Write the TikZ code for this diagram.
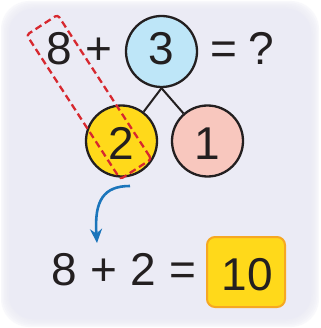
\documentclass[tikz,border=0pt]{standalone}
\usepackage{fontspec}
\setmainfont{Liberation Sans}
\usetikzlibrary{arrows.meta}
\definecolor{bg}{HTML}{EBEBF5}
\definecolor{ink}{HTML}{231F20}
\definecolor{cblue}{HTML}{BEE6F8}
\definecolor{cyellow}{HTML}{FFD91A}
\definecolor{cpink}{HTML}{F8C7BE}
\definecolor{dred}{HTML}{D7282F}
\definecolor{abl}{HTML}{1B75BB}
\definecolor{bord}{HTML}{F6A822}
\begin{document}
\begin{tikzpicture}[x=1pt,y=-1pt,
  num/.style={font=\fontsize{46}{46}\selectfont, text=ink, inner sep=0pt, anchor=base},
  bubble/.style={circle, draw=ink, line width=2.3pt, minimum size=71pt, inner sep=0pt},
  branch/.style={draw=ink, line width=2pt},
  selbox/.style={draw=dred, dash pattern=on 7pt off 4pt, line width=2.3pt, rounded corners=3pt, minimum width=172pt, minimum height=37pt, inner sep=0pt},
  answer/.style={draw=bord, fill=cyellow, line width=2pt, rounded corners=8pt, minimum width=78pt, minimum height=70pt, inner sep=0pt},
  flow/.style={draw=abl, line width=2.6pt, -{Stealth[length=14pt,width=12pt]}}
]
\useasboundingbox (0,0) rectangle (320,328);
\fill[white] (0,0) rectangle (320,328);
\foreach \d in {1,2.5,4,5.5,7} {
  \fill[bg, opacity=0.3, rounded corners=28pt] (\d,\d) rectangle (320-\d,328-\d);
}
\fill[bg, rounded corners=24pt] (9,9) rectangle (311,319);
% top row
\node[num] (t8) at (59,65) {8};
\node[num] (tplus) at (99,65) {+};
\node[bubble, fill=cblue] (c3) at (161.5,51.5) {};
\node[num] (t3) at (161.5,65) {3};
\node[num] (teq) at (224,65) {=};
\node[num] (tq) at (261,65) {?};
% parts
\node[bubble, fill=cyellow] (c2) at (121.5,141) {};
\node[num] (t2) at (121.5,160) {2};
\node[bubble, fill=cpink] (c1) at (207.5,141) {};
\node[num] (t1) at (207.5,160) {1};
\draw[branch] (c3.south) -- (c2);
\draw[branch] (c3.south) -- (c1);
% selection
\node[selbox, rotate=-57] (sel) at (89,97) {};
% arrow
\coordinate (as) at (130,186);
\coordinate (ae) at (97,243);
\draw[flow] (as) .. controls (104,186) and (94,200) .. (ae);
% bottom row
\node[num] (b8) at (64,285) {8};
\node[num] (bplus) at (104,285) {+};
\node[num] (b2) at (143,285) {2};
\node[num] (beq) at (183,285) {=};
\node[answer] (box) at (246,272) {};
\node[num] (b10) at (247.5,290) {10};
\end{tikzpicture}
\end{document}
